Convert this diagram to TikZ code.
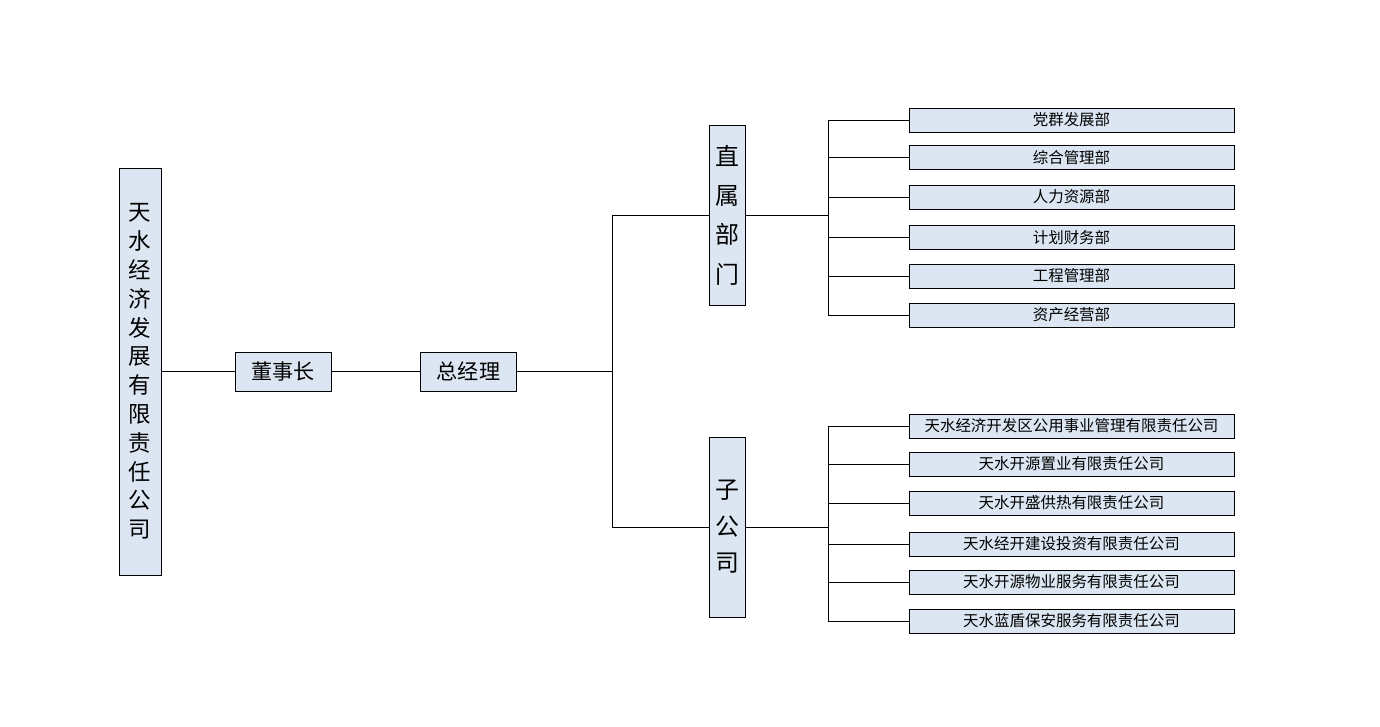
\documentclass[tikz,border=0pt]{standalone}
\usepackage{fontspec}
\setmainfont{Noto Sans CJK SC}
\usetikzlibrary{positioning}
\definecolor{boxblue}{HTML}{DCE6F2}

\begin{document}
\begin{tikzpicture}[x=0.025cm, y=-0.025cm,
	b/.style={draw, fill=boxblue, inner sep=0pt, anchor=center},
	small/.style={b, minimum width=325*0.025cm, minimum height=24*0.025cm, font=\fontsize{11}{13}\selectfont},
	mid/.style={b, minimum width=96*0.025cm, minimum height=39*0.025cm, font=\fontsize{15}{17}\selectfont},
	tall/.style={b, minimum width=36*0.025cm, align=center, font=\fontsize{16}{23}\selectfont},
	l/.style={semithick}]
	\useasboundingbox (0,0) rectangle (1380,727);

	\node[tall, minimum width=42*0.025cm, minimum height=407*0.025cm, font=\fontsize{16}{20.5}\selectfont] (co) at (140,371.5) {天\\水\\经\\济\\发\\展\\有\\限\\责\\任\\公\\司};
	\node[mid] (dsz) at (283,371.5) {董事长};
	\node[mid] (zjl) at (468.5,371.5) {总经理};
	\node[tall, minimum height=180*0.025cm, font=\fontsize{17}{28}\selectfont] (zs) at (727.5,215) {直\\属\\部\\门};
	\node[tall, minimum height=180*0.025cm, font=\fontsize{17}{26}\selectfont] (zgs) at (727.5,527) {子\\公\\司};

	\coordinate (hub) at (612,371.5);
	\coordinate (hz) at (828,215);
	\coordinate (hg) at (828,527);

	\draw[l] (co) -- (dsz);
	\draw[l] (dsz) -- (zjl);
	\draw[l] (zjl) -- (hub);
	\draw[l] (hub |- zs) -- (hub |- zgs);
	\draw[l] (hub |- zs) -- (zs);
	\draw[l] (hub |- zgs) -- (zgs);
	\draw[l] (zs) -- (hz);
	\draw[l] (zgs) -- (hg);

	\foreach \n/\y/\t in {d1/120/党群发展部, d2/157.5/综合管理部, d3/197/人力资源部, d4/237.5/计划财务部, d5/276/工程管理部, d6/315/资产经营部}{
		\node[small] (\n) at (1071.5,\y) {\t};
		\draw[l] (hz |- \n) -- (\n);
	}
	\draw[l] (hz |- d1) -- (hz |- d6);

	\foreach \n/\y/\t in {s1/426/天水经济开发区公用事业管理有限责任公司, s2/464/天水开源置业有限责任公司, s3/503/天水开盛供热有限责任公司, s4/544/天水经开建设投资有限责任公司, s5/582/天水开源物业服务有限责任公司, s6/621/天水蓝盾保安服务有限责任公司}{
		\node[small] (\n) at (1071.5,\y) {\t};
		\draw[l] (hg |- \n) -- (\n);
	}
	\draw[l] (hg |- s1) -- (hg |- s6);
\end{tikzpicture}
\end{document}
